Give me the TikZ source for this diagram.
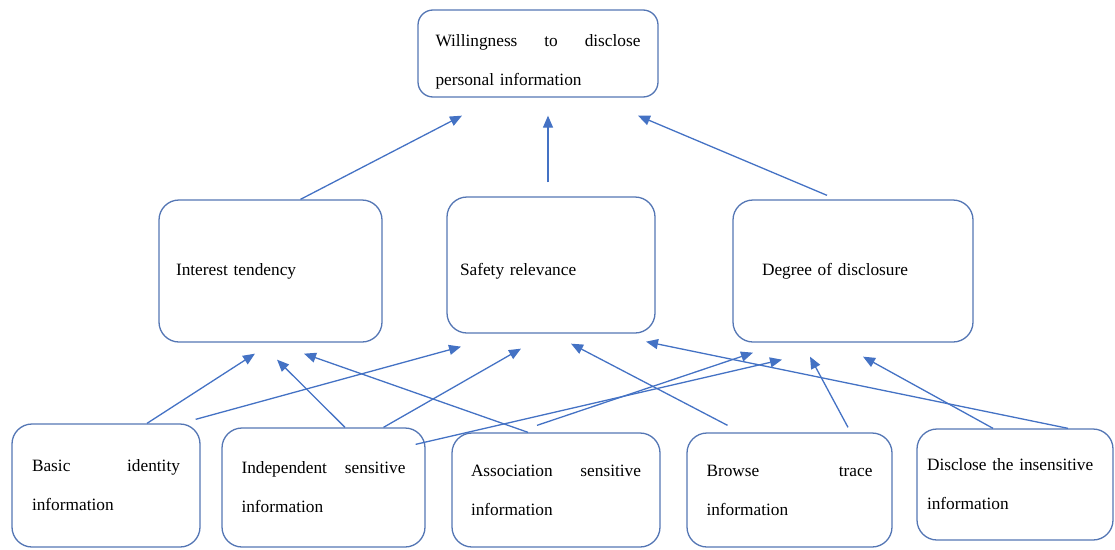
\documentclass[tikz,border=0pt]{standalone}
\usepackage{fontspec}
\setmainfont{Liberation Serif}
\usetikzlibrary{arrows.meta}
\definecolor{boxblue}{RGB}{84,118,180}
\definecolor{arrowblue}{RGB}{68,114,196}

\begin{document}
\begin{tikzpicture}[x=1pt, y=-1pt, thick,
    main/.style = {draw=boxblue, line width=1.3pt, rounded corners=20pt, align=left, inner sep=0pt, font=\fontsize{17.3}{39}\selectfont},
    link/.style = {draw=arrowblue, line width=1.3pt, -{Triangle[length=12pt, width=10pt]}}]
    \useasboundingbox (0,0) rectangle (1115,549);
    \node[main, minimum width=240pt, minimum height=87pt, text width=205pt, text height=28pt, rounded corners=15pt] (top) at (538,53.5) {Willingness \hfill to \hfill disclose\\ personal information};
    \node[main, minimum width=223pt, minimum height=142pt, text width=189pt] (interest) at (270.5,271) {Interest tendency};
    \node[main, minimum width=208pt, minimum height=136pt, text width=182pt, text height=24pt] (safety) at (551,265) {Safety relevance};
    \node[main, minimum width=240pt, minimum height=142pt, text width=182pt] (degree) at (853,271) {Degree of disclosure};
    \node[main, minimum width=188pt, minimum height=123pt, text width=148pt] (basic) at (106,485.5) {Basic \hfill identity\\ information};
    \node[main, minimum width=203pt, minimum height=119pt, text width=164pt] (indep) at (323.5,487.5) {Independent \hfill sensitive\\ information};
    \node[main, minimum width=208pt, minimum height=114pt, text width=170pt] (assoc) at (556,490) {Association \hfill sensitive\\ information};
    \node[main, minimum width=205pt, minimum height=114pt, text width=166pt] (browse) at (789.5,490) {Browse \hfill trace\\ information};
    \node[main, minimum width=196pt, minimum height=111pt, text width=176pt] (disclose) at (1015,484.5) {Disclose the insensitive\\ information};
    \draw[link] ([xshift=30pt]interest.north) -- ([xshift=-76pt, yshift=-18pt]top.south);
    \draw[link] ([xshift=-3pt, yshift=14pt]safety.north) -- ([xshift=10pt, yshift=-18pt]top.south);
    \draw[link] ([xshift=-26pt, yshift=4pt]degree.north) -- ([xshift=100pt, yshift=-18pt]top.south);
    \draw[link] ([xshift=41pt]basic.north) -- ([xshift=-15.5pt, yshift=-11pt]interest.south);
    \draw[link] ([xshift=-5pt, yshift=4pt]basic.north east) -- ([xshift=-90pt, yshift=-13pt]safety.south);
    \draw[link] ([xshift=21.5pt]indep.north) -- ([xshift=6.5pt, yshift=-17pt]interest.south);
    \draw[link] ([xshift=60pt]indep.north) -- ([xshift=-30pt, yshift=-15pt]safety.south);
    \draw[link] ([xshift=-10pt, yshift=-17pt]indep.north east) -- ([xshift=-71pt, yshift=-17pt]degree.south);
    \draw[link] ([xshift=-28pt]assoc.north) -- ([xshift=33.5pt, yshift=-11pt]interest.south);
    \draw[link] ([xshift=-19pt, yshift=7pt]assoc.north) -- ([xshift=-100pt, yshift=-10pt]degree.south);
    \draw[link] ([xshift=-62pt, yshift=7pt]browse.north) -- ([xshift=20pt, yshift=-10pt]safety.south);
    \draw[link] ([xshift=58.5pt, yshift=5pt]browse.north) -- ([xshift=-43pt, yshift=-14pt]degree.south);
    \draw[link] ([xshift=-22pt]disclose.north) -- ([xshift=10pt, yshift=-14pt]degree.south);
    \draw[link] ([xshift=53pt]disclose.north) -- ([xshift=95pt, yshift=-8pt]safety.south);
\end{tikzpicture}
\end{document}
